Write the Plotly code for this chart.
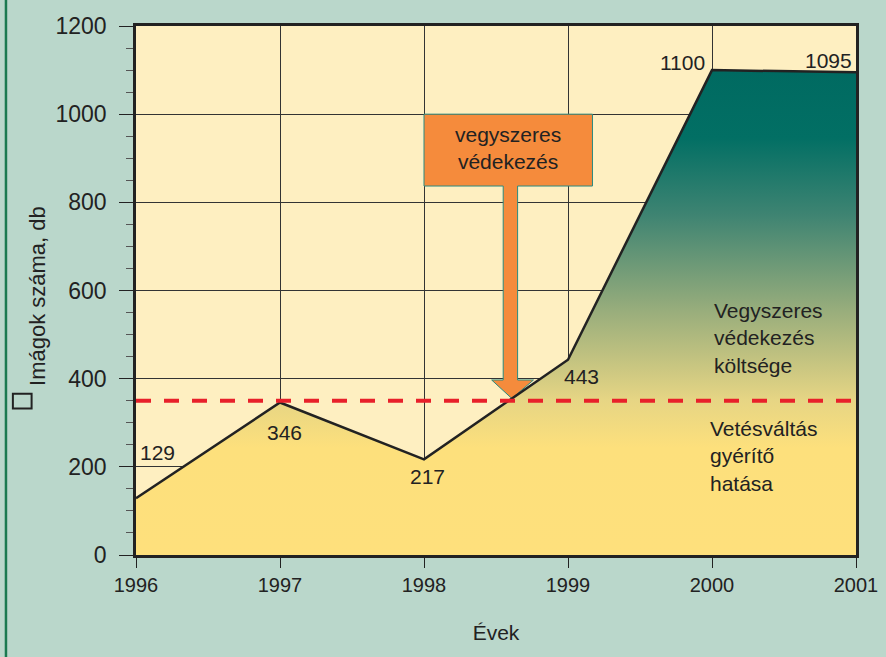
import plotly.graph_objects as go

# data
years = [1996, 1997, 1998, 1999, 2000, 2001]
counts = [129, 346, 217, 443, 1100, 1095]
threshold = 350
year_ticks = [1996, 1997, 1998, 1999, 2000, 2001]
y_ticks = [0, 200, 400, 600, 800, 1000, 1200]

BG = "#bad7cb"
PLOT_BG = "#feefc1"
INK = "#222222"
FONT = "Liberation Sans, Arial, sans-serif"

fig = go.Figure()

# gradient filled area under the curve
fig.add_trace(go.Scatter(
    x=years, y=counts, mode="lines", fill="tozeroy",
    line=dict(color=INK, width=2.5),
    fillgradient=dict(
        type="vertical", start=0, stop=1100,
        colorscale=[[0, "#fee07c"], [0.22, "#fde07c"], [0.32, "#e6d584"],
                    [0.5, "#9aae7c"], [0.7, "#3f8472"], [0.86, "#026f64"],
                    [1, "#006a61"]],
    ),
    hoverinfo="x+y", showlegend=False,
))

# threshold line
fig.add_trace(go.Scatter(
    x=[years[0], years[-1]], y=[threshold, threshold], mode="lines",
    line=dict(color="#e8202a", width=4, dash="15px,13px"),
    hoverinfo="skip", showlegend=False,
))

# orange arrow "vegyszeres védekezés"
fig.add_shape(
    type="path", layer="between", xref="x", yref="y",
    path=("M 1998,1000 L 1999.17,1000 L 1999.17,837 L 1998.65,837 L 1998.65,397 "
          "L 1998.76,397 L 1998.61,355 L 1998.47,397 L 1998.55,397 L 1998.55,837 "
          "L 1998,837 Z"),
    fillcolor="#f58b3c", line=dict(color="#2a8a80", width=1),
)
fig.add_annotation(x=1998.58, y=923, text="vegyszeres<br>védekezés", showarrow=False,
                   font=dict(size=21, color=INK), align="center")

# value labels
offsets = [(2, 46, "left"), (4, -30, "center"), (3, -17, "center"),
           (13, -17, "center"), (-30, 8, "center"), (-28, 12, "center")]
for x, y, (dx, dy, al) in zip(years, counts, offsets):
    fig.add_annotation(x=x, y=y, text=str(y), showarrow=False, xshift=dx, yshift=dy,
                       xanchor=al, font=dict(size=21, color=INK))

# region labels
fig.add_annotation(x=2000.0, y=492, text="Vegyszeres<br>védekezés<br>költsége",
                   showarrow=False, xanchor="left", align="left",
                   font=dict(size=21, color=INK))
fig.add_annotation(x=1999.97, y=225, text="Vetésváltás<br>gyérítő<br>hatása",
                   showarrow=False, xanchor="left", align="left",
                   font=dict(size=21, color=INK))

# y axis title and the small square in front of it
fig.add_annotation(xref="paper", yref="paper", x=-0.156, y=0.49, text="Imágok száma, db",
                   textangle=-90, showarrow=False, font=dict(size=22, color=INK))
fig.add_shape(type="rect", xref="paper", yref="paper", x0=-0.171, x1=-0.145, y0=0.277, y1=0.305,
              line=dict(color=INK, width=2), fillcolor="rgba(0,0,0,0)")

# green left rule
fig.add_shape(type="line", xref="paper", yref="paper", x0=-0.1806, x1=-0.1806, y0=-0.3, y1=1.1,
              line=dict(color="#1b7a50", width=2.5))

fig.update_layout(
    width=886, height=657,
    margin=dict(l=136, r=30, t=26, b=102),
    paper_bgcolor=BG, plot_bgcolor=PLOT_BG,
    font=dict(family=FONT, color=INK),
    showlegend=False,
)
fig.update_xaxes(
    range=[1996, 2001], tickvals=year_ticks, ticks="outside", ticklen=10, tickcolor=INK,
    showgrid=True, gridcolor="#333333", gridwidth=1,
    showline=True, linecolor=INK, linewidth=2.5, mirror=True,
    tickfont=dict(size=20), automargin=False,
    title=dict(text="Évek", font=dict(size=21), standoff=31),
    zeroline=False,
)
fig.update_yaxes(
    range=[0, 1200], tickvals=y_ticks, ticks="outside", ticklen=14, tickcolor=INK,
    showgrid=True, gridcolor="#333333", gridwidth=1,
    showline=True, linecolor=INK, linewidth=2.5, mirror=True,
    tickfont=dict(size=23), ticklabelstandoff=8, zeroline=False, automargin=False,
    minor=dict(dtick=50, ticks="outside", ticklen=7, tickcolor="#555555", showgrid=False),
)

fig.write_html("out.html", config={"displayModeBar": False},
               post_script="document.body.style.margin='0';")
